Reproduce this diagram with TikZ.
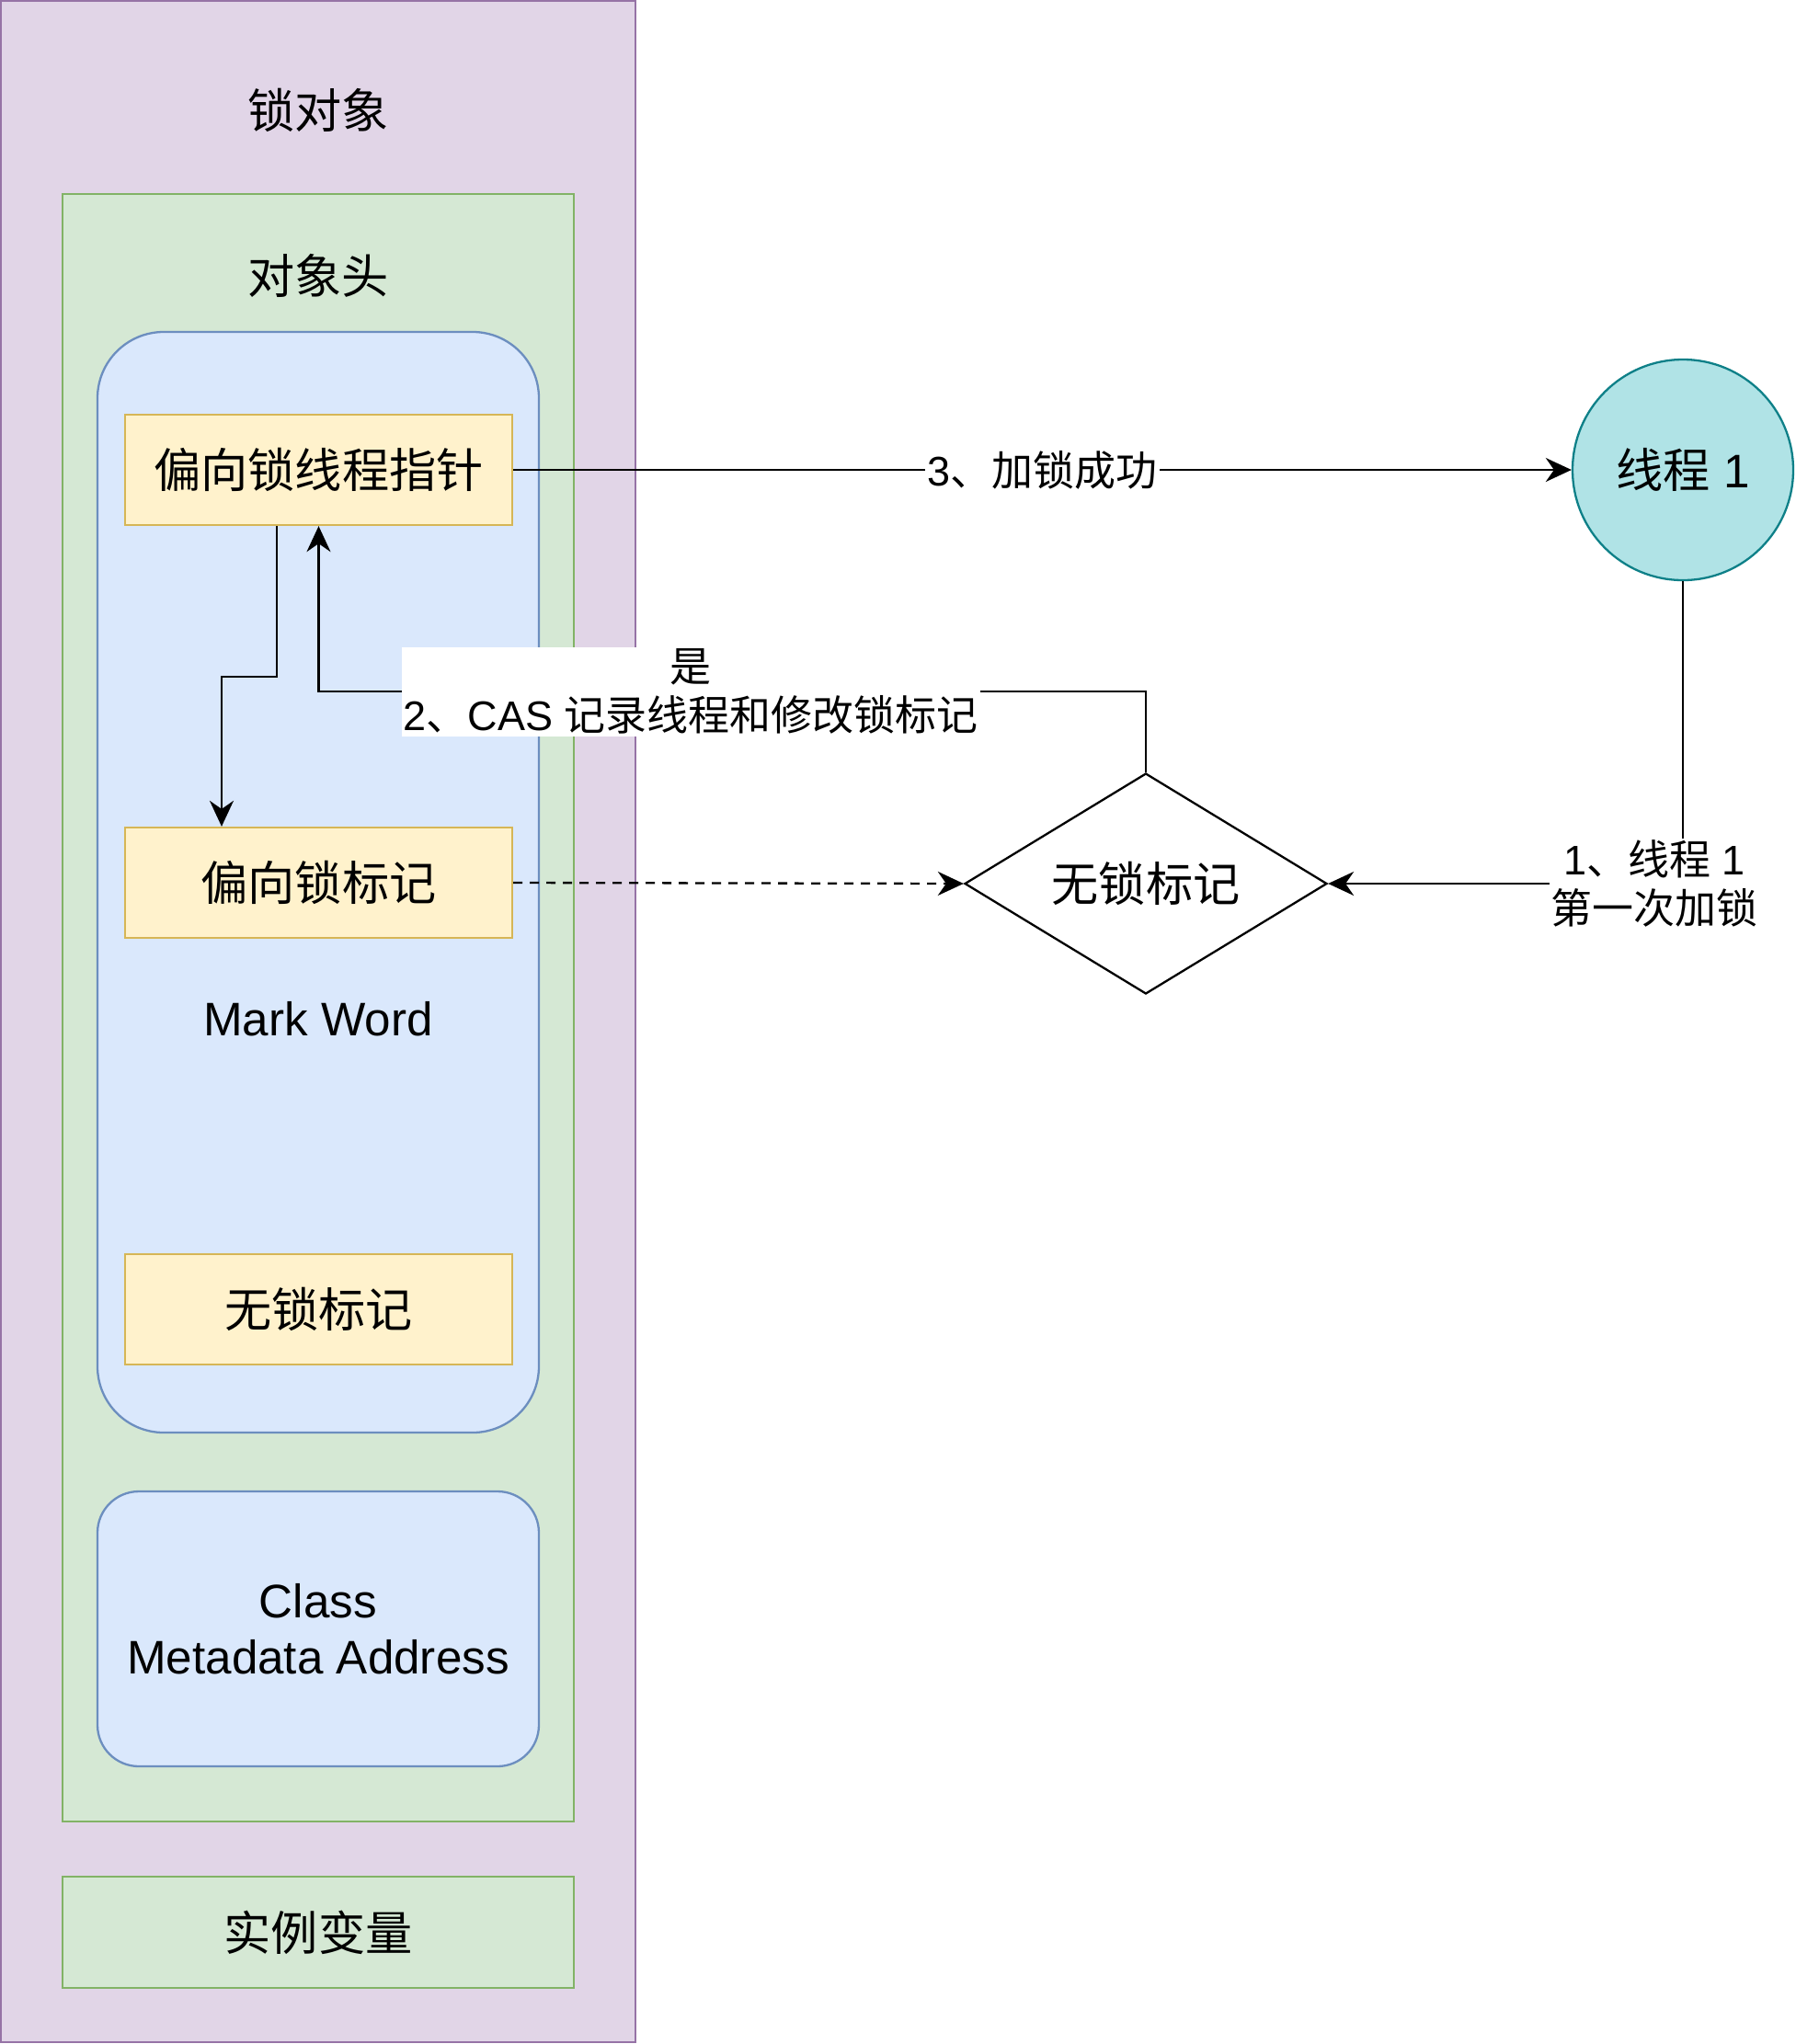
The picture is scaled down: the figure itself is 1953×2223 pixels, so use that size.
\documentclass[tikz,border=0pt]{standalone}
\usepackage{fontspec}
\setmainfont{Liberation Sans}
\newfontfamily\cjk{Noto Sans CJK SC}
\usetikzlibrary{calc,shapes,arrows.meta,positioning}
\definecolor{objfill}{HTML}{E1D5E7}
\definecolor{objdraw}{HTML}{9673A6}
\definecolor{hdrfill}{HTML}{D5E8D4}
\definecolor{hdrdraw}{HTML}{82B366}
\definecolor{mwfill}{HTML}{DAE8FC}
\definecolor{mwdraw}{HTML}{6C8EBF}
\definecolor{markfill}{HTML}{FFF2CC}
\definecolor{markdraw}{HTML}{D6B656}
\definecolor{thfill}{HTML}{B0E3E6}
\definecolor{thdraw}{HTML}{0E8088}

\begin{document}
\begin{tikzpicture}[x=0.5pt,y=-0.5pt,line width=1.15pt,>={Stealth[length=14pt,width=13pt,inset=4.5pt]}]
\fontsize{25.6pt}{30.5pt}\selectfont
\tikzstyle{box}=[draw, rectangle, inner sep=0pt]
\tikzstyle{markbox}=[box, fill=markfill, draw=markdraw, minimum width=210.5pt, minimum height=60pt]
\tikzstyle{lbl}=[fill=white, inner sep=1pt, align=center, font=\fontsize{22.5pt}{26.5pt}\selectfont]
\useasboundingbox (0,0) rectangle (1953,2223);
% object layout
\node[box, fill=objfill, draw=objdraw, minimum width=345pt, minimum height=1110pt] (obj) at (346,1111) {};
\node (objtitle) at (346,120) {\cjk 锁对象};
\node[box, fill=hdrfill, draw=hdrdraw, minimum width=278pt, minimum height=885pt] (hdr) at (346,1096) {};
\node (hdrtitle) at (346,300) {\cjk 对象头};
\node[box, fill=mwfill, draw=mwdraw, rounded corners=36pt, minimum width=240pt, minimum height=598.5pt] (mw) at (346,959.5) {};
\node (mwtitle) at (346,1108) {Mark Word};
\foreach \name/\y/\txt in {ptr/511/偏向锁线程指针, biased/960/偏向锁标记, free/1424/无锁标记}
    \node[markbox] (\name) at (346.5,\y) {\cjk \txt};
\node[box, fill=mwfill, draw=mwdraw, rounded corners=22.5pt, minimum width=240pt, minimum height=149.5pt, align=center] (klass) at (346,1771.5) {Class\\Metadata Address};
\node[box, fill=hdrfill, draw=hdrdraw, minimum width=278pt, minimum height=60.5pt] (inst) at (346,2101.5) {\cjk 实例变量};
% thread and check
\node[circle, fill=thfill, draw=thdraw, minimum size=120pt, inner sep=0pt] (thread) at (1830,511) {{\cjk 线程} 1};
\node[diamond, draw, aspect=1.64, minimum width=197pt, minimum height=120pt, inner sep=0pt] (nolock) at (1246,961) {\cjk 无锁标记};
\coordinate (bend) at ($(ptr.south)+(0,180)$);
% connectors
\draw[->] (thread.south) |- node[lbl, pos=0.54] {1{\cjk 、线程} 1\\{\cjk 第一次加锁}} (nolock.east);
\draw[->] (nolock.north) |- node[lbl, pos=0.775] {{\cjk 是}\\2{\cjk 、}CAS {\cjk 记录线程和修改锁标记}} (bend) -- (ptr.south);
\draw[->] (ptr.east) -- node[lbl] {3{\cjk 、加锁成功}} (thread.west);
\draw[->] ([xshift=-22.75pt]ptr.south) -- ++(0,164) -| ([xshift=-52.75pt]biased.north);
\draw[->, dash pattern=on 5pt off 4pt] (biased.east) -- (nolock.west);
\end{tikzpicture}
\end{document}
